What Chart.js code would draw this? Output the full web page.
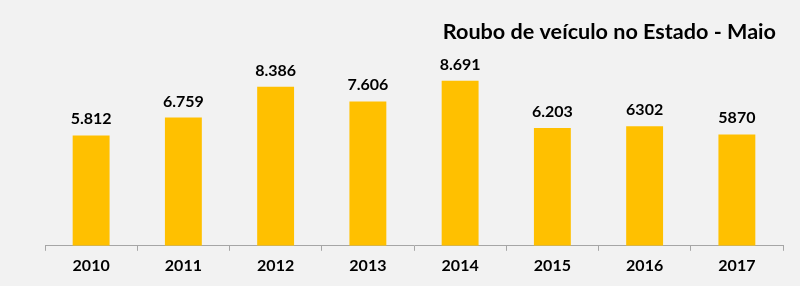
<!DOCTYPE html>
<html>
<head>
<meta charset="utf-8">
<script src="https://cdn.jsdelivr.net/npm/chart.js@4/dist/chart.umd.min.js"></script>
<style>
  html, body { margin: 0; padding: 0; background: #f2f2f2; }
  #wrap { width: 800px; height: 286px; position: relative; }
</style>
</head>
<body>
<div id="wrap"><canvas id="c" width="800" height="286"></canvas></div>
<script>
const titleText = "Roubo de veículo no Estado - Maio";
const years = ["2010", "2011", "2012", "2013", "2014", "2015", "2016", "2017"];
const robberies = [5812, 6759, 8386, 7606, 8691, 6203, 6302, 5870];
const valueLabels = ["5.812", "6.759", "8.386", "7.606", "8.691", "6.203", "6302", "5870"];

const FONT = "Lato, 'Open Sans', sans-serif";

const bgPlugin = {
  id: 'bg',
  beforeDraw(chart) {
    const ctx = chart.ctx;
    ctx.save();
    ctx.fillStyle = '#f2f2f2';
    ctx.fillRect(0, 0, chart.width, chart.height);
    ctx.restore();
  }
};

const labelPlugin = {
  id: 'valueLabels',
  afterDatasetsDraw(chart) {
    const ctx = chart.ctx;
    const meta = chart.getDatasetMeta(0);
    ctx.save();
    ctx.font = "bold 16px " + FONT;
    ctx.fillStyle = '#000000';
    ctx.textAlign = 'center';
    ctx.textBaseline = 'alphabetic';
    meta.data.forEach((bar, i) => {
      ctx.fillText(valueLabels[i], bar.x, bar.y - 11);
    });
    // title
    ctx.font = "bold 21.6px " + FONT;
    ctx.textAlign = 'right';
    ctx.fillText(titleText, 776, 39);
    ctx.restore();
  }
};

new Chart(document.getElementById('c'), {
  type: 'bar',
  data: {
    labels: years,
    datasets: [{
      data: robberies,
      backgroundColor: '#FFC000',
      borderWidth: 0,
      barPercentage: 0.4,
      categoryPercentage: 1.0
    }]
  },
  options: {
    responsive: false,
    animation: false,
    devicePixelRatio: 1,
    layout: { padding: { top: 56, left: 45, right: 17, bottom: 6 } },
    plugins: {
      legend: { display: false },
      title: { display: false },
      tooltip: { enabled: false }
    },
    scales: {
      x: {
        grid: {
          offset: true,
          drawOnChartArea: false,
          drawTicks: true,
          tickLength: 5,
          color: '#a6a6a6',
          lineWidth: 1
        },
        border: { display: true, color: '#a6a6a6', width: 1 },
        ticks: {
          color: '#000000',
          font: { family: FONT, size: 16, weight: 'bold' },
          padding: 5,
          maxRotation: 0
        }
      },
      y: {
        display: false,
        min: 0,
        max: 10000
      }
    }
  },
  plugins: [bgPlugin, labelPlugin]
});
</script>
</body>
</html>
